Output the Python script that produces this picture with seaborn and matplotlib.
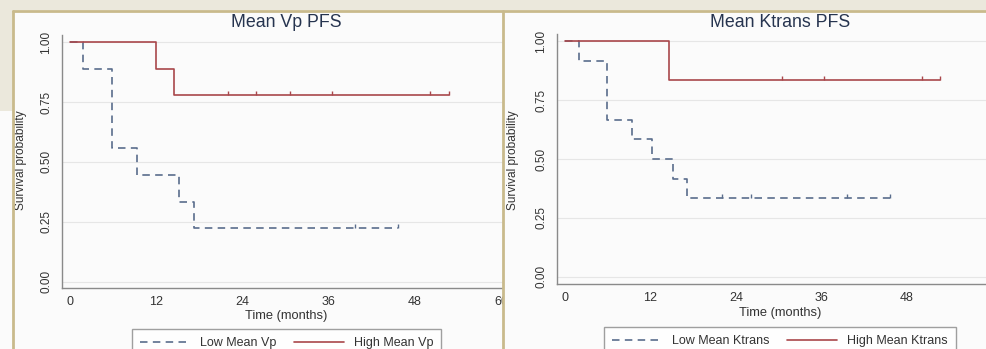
import numpy as np
import pandas as pd
import matplotlib
matplotlib.use("Agg")
import matplotlib.pyplot as plt
from matplotlib.patches import Rectangle
from matplotlib.lines import Line2D
import seaborn as sns

# ---- Kaplan-Meier step data (time in months, survival probability) ----
vp_low_time = [0, 1.8, 5.8, 9.3, 15.2, 17.2, 45.7]
vp_low_surv = [1.0, 0.889, 0.556, 0.444, 0.333, 0.222, 0.222]
vp_low_censor = [39.7, 45.7]

vp_high_time = [0, 12.0, 14.5, 52.8]
vp_high_surv = [1.0, 0.889, 0.778, 0.778]
vp_high_censor = [22.0, 25.9, 30.6, 36.4, 50.1, 52.8]

kt_low_time = [0, 2.0, 5.9, 9.4, 12.3, 15.2, 17.2, 45.7]
kt_low_surv = [1.0, 0.917, 0.667, 0.583, 0.5, 0.417, 0.333, 0.333]
kt_low_censor = [22.0, 26.1, 39.6, 45.7]

kt_high_time = [0, 14.6, 52.7]
kt_high_surv = [1.0, 0.833, 0.833]
kt_high_censor = [30.5, 36.4, 50.1, 52.7]

x_ticks_left = [0, 12, 24, 36, 48, 60]
x_ticks_right = [0, 12, 24, 36, 48]
y_ticks = [0.0, 0.25, 0.5, 0.75, 1.0]
y_ticklabels = ["0.00", "0.25", "0.50", "0.75", "1.00"]

titles = ["Mean Vp PFS", "Mean Ktrans PFS"]
legend_labels = [["Low Mean Vp", "High Mean Vp"], ["Low Mean Ktrans", "High Mean Ktrans"]]

LOW_COLOR = "#5a6d8c"
HIGH_COLOR = "#a9474b"
TEXT = "#333333"
TITLE = "#26344f"
AXIS = "#8a8a8a"
BG = "#fbfbfb"
BEIGE = "#ebe8dc"
TAN = "#c9ba8c"
DASH = (0, (4.5, 3.2))

sns.set_theme(style="white")
plt.rcParams["font.family"] = ["Liberation Sans", "DejaVu Sans"]

W, H = 987, 349
fig = plt.figure(figsize=(W / 100, H / 100), dpi=100)
fig.patch.set_facecolor(BG)


def fx(px):
    return px / W


def fy(py):
    return 1 - py / H


def surv_at(times, surv, t):
    idx = np.searchsorted(times, t, side="right") - 1
    return np.asarray(surv)[idx]


def km_panel(ax, low, high, title, labels, xticks, center_x, ylab_x,
             title_base, xlab_base, leg_top):
    ax.set_facecolor(BG)
    for (times, surv, cens), color, ls in [
        (low, LOW_COLOR, DASH),
        (high, HIGH_COLOR, "-"),
    ]:
        df = pd.DataFrame({"t": times, "s": surv})
        sns.lineplot(data=df, x="t", y="s", ax=ax, color=color, linewidth=1.2,
                     drawstyle="steps-post", estimator=None, sort=False,
                     linestyle=ls, legend=False)
        # censoring marks
        cy = surv_at(times, surv, cens)
        ax.vlines(cens, cy, cy + 0.017, color=color, linewidth=1.0)

    ax.set_xlim(-1.1, 61.5)
    ax.set_xticks(xticks)
    ax.set_xticklabels([str(v) for v in xticks], fontsize=9, color=TEXT)
    ax.set_yticks(y_ticks)
    ax.set_yticklabels(y_ticklabels, fontsize=8.5, color=TEXT, rotation=90, va="center")
    ax.tick_params(axis="both", direction="out", length=4, width=0.8, color=AXIS)
    ax.tick_params(axis="y", pad=3)
    ax.tick_params(axis="x", pad=2)
    ax.grid(axis="y", color="#e6e6e6", linewidth=0.8)
    ax.grid(axis="x", visible=False)
    for side in ["top", "right"]:
        ax.spines[side].set_visible(False)
    for side in ["left", "bottom"]:
        ax.spines[side].set_color(AXIS)
        ax.spines[side].set_linewidth(1.0)
    ax.set_xlabel("")
    ax.set_ylabel("")

    fig.text(fx(center_x), fy(title_base), title, ha="center", va="baseline",
             fontsize=12.8, color=TITLE)
    fig.text(fx(center_x), fy(xlab_base), "Time (months)", ha="center", va="baseline",
             fontsize=9.3, color=TEXT)
    fig.text(fx(ylab_x), fy(160), "Survival probability", ha="center", va="center",
             rotation=90, fontsize=8.6, color=TEXT)

    handles = [Line2D([], [], color=LOW_COLOR, linewidth=1.2, linestyle=DASH),
               Line2D([], [], color=HIGH_COLOR, linewidth=1.2)]
    leg = fig.legend(handles, labels, loc="upper center", ncol=2,
                     bbox_to_anchor=(fx(center_x), fy(leg_top)),
                     fontsize=9, frameon=True, fancybox=False, handlelength=4.0,
                     columnspacing=1.4, handletextpad=0.8, borderpad=0.65,
                     borderaxespad=0, labelcolor=TEXT)
    leg.get_frame().set_edgecolor("#888888")
    leg.get_frame().set_linewidth(1.0)
    leg.get_frame().set_facecolor("#ffffff")
    leg.set_zorder(ax.get_zorder() + 0.5)
    return leg


# left panel
ax1 = fig.add_axes([fx(62), fy(288), fx(450), (288 - 35) / H])
ax1.set_zorder(0)
km_panel(ax1, (vp_low_time, vp_low_surv, vp_low_censor),
         (vp_high_time, vp_high_surv, vp_high_censor),
         titles[0], legend_labels[0], x_ticks_left, 286.5, 21, 27, 319, 329)
ax1.set_ylim(-0.027, 1.03)

# background of the right panel, hiding the left plot's overflow
fig.add_artist(Rectangle((fx(503), 0), 1 - fx(503), 1, transform=fig.transFigure,
                         facecolor=BG, edgecolor="none", zorder=1))

# right panel
ax2 = fig.add_axes([fx(557), fy(284), fx(446), (284 - 34) / H])
ax2.set_zorder(2)
km_panel(ax2, (kt_low_time, kt_low_surv, kt_low_censor),
         (kt_high_time, kt_high_surv, kt_high_censor),
         titles[1], legend_labels[1], x_ticks_right, 780, 513, 27, 316, 327)
ax2.set_ylim(-0.03, 1.03)

# slide frame
fig.add_artist(Rectangle((0, fy(10)), 1, 10 / H, transform=fig.transFigure,
                         facecolor=BEIGE, edgecolor="none", zorder=5))
fig.add_artist(Rectangle((0, fy(111)), fx(13), (111 - 10) / H, transform=fig.transFigure,
                         facecolor=BEIGE, edgecolor="none", zorder=5))
fig.add_artist(Line2D([fx(13), 1], [fy(10.5), fy(10.5)], transform=fig.transFigure,
                      color=TAN, linewidth=2, zorder=6))
fig.add_artist(Line2D([fx(13), fx(13)], [0, fy(10.5)], transform=fig.transFigure,
                      color=TAN, linewidth=2, zorder=6))
fig.add_artist(Line2D([fx(503.5), fx(503.5)], [0, fy(10.5)], transform=fig.transFigure,
                      color=TAN, linewidth=2, zorder=6))

fig.savefig("out.png", dpi=100, facecolor=fig.get_facecolor())
